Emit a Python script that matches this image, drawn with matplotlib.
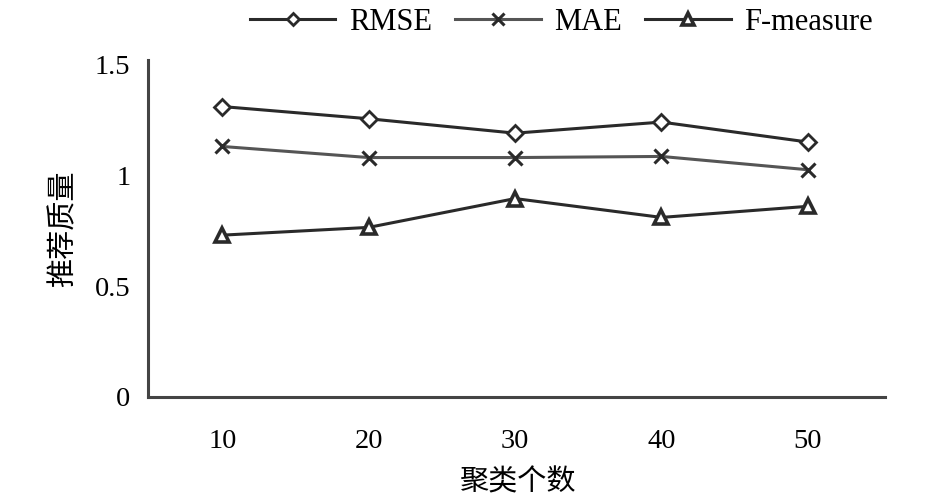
import matplotlib
matplotlib.use("Agg")
import matplotlib.pyplot as plt

# --- data ---
clusters = [10, 20, 30, 40, 50]
rmse = [1.31, 1.255, 1.19, 1.24, 1.15]
mae = [1.13, 1.08, 1.08, 1.085, 1.025]
f_measure = [0.73, 0.765, 0.895, 0.81, 0.86]

y_ticks = [0, 0.5, 1, 1.5]
y_tick_labels = ["0", "0.5", "1", "1.5"]

plt.rcParams['font.family'] = ['Liberation Serif', 'Noto Sans CJK SC', 'DejaVu Sans']
cjk = ['Noto Sans CJK SC', 'DejaVu Sans']

fig = plt.figure(figsize=(9.45, 5), dpi=100)
ax = fig.add_axes([0.157, 0.206, 0.780, 0.674])

line_col = '#2a2a2a'
ax.plot(clusters, rmse, color=line_col, lw=2.2, marker='D', ms=8,
        mfc='white', mec=line_col, mew=2, label='RMSE')
ax.plot(clusters, mae, color='#555555', lw=2.2, marker='x', ms=10,
        mec=line_col, mew=2.2, label='MAE')
ax.plot(clusters, f_measure, color=line_col, lw=2.2, marker='^', ms=10,
        mfc='white', mec=line_col, mew=2.6, label='F-measure')

ax.set_xlim(4.95, 55.3)
ax.set_ylim(0, 1.52)
ax.set_xticks(clusters)
ax.set_yticks(y_ticks)
ax.set_yticklabels(y_tick_labels)
ax.tick_params(axis='both', length=0, labelsize=20.5)
ax.tick_params(axis='x', pad=23)
ax.tick_params(axis='y', pad=13)

for side in ['top', 'right']:
    ax.spines[side].set_visible(False)
for side in ['left', 'bottom']:
    ax.spines[side].set_color('#444444')
    ax.spines[side].set_linewidth(2.2)

ax.set_ylabel('推荐质量', family=cjk, fontsize=21, labelpad=12)
ax.set_xlabel('聚类个数', family=cjk, fontsize=21, labelpad=10)

fig.legend(loc='center', bbox_to_anchor=(0.594, 0.956), ncol=3,
           frameon=False, fontsize=22, handlelength=2.8, handletextpad=0.45,
           columnspacing=0.75, borderpad=0, markerscale=0.8)

fig.savefig('out.png', dpi=100)
